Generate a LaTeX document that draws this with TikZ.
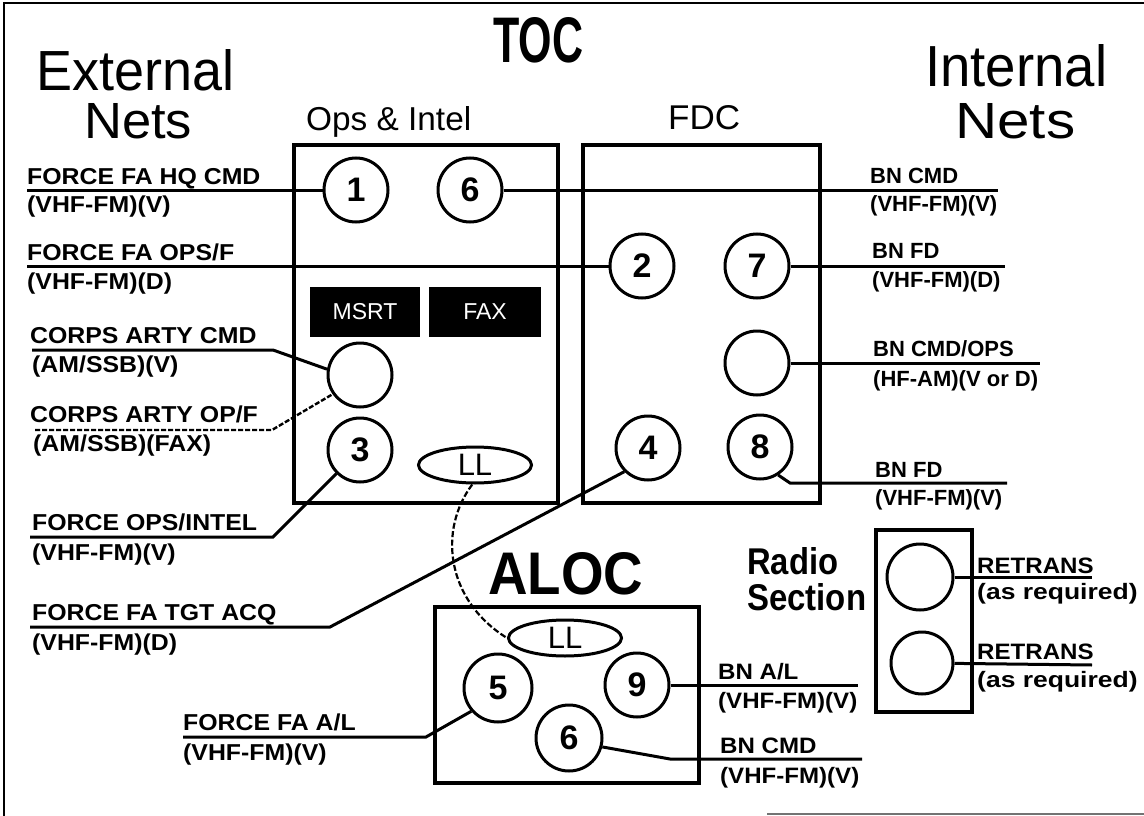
\documentclass[tikz,border=0pt]{standalone}
\usepackage{fontspec}
\setmainfont{Liberation Sans}
\newfontfamily\lblfont[FakeStretch=1.08]{Liberation Sans}
\newfontfamily\rlblfont[FakeStretch=1.0]{Liberation Sans}
\usetikzlibrary{shapes.geometric}
\tikzset{
  net/.style={line width=3pt},
  netdash/.style={line width=2.4pt, dash pattern=on 5pt off 2pt},
  llcurve/.style={line width=2.2pt, dash pattern=on 6pt off 2.5pt},
  box/.style={draw, line width=3.5pt, inner sep=0pt},
  rad/.style={circle, draw, line width=3pt, fill=white, minimum size=64pt, inner sep=0pt,
    font=\bfseries\fontsize{34}{34}\selectfont},
  ll/.style={ellipse, draw, line width=3pt, fill=white, minimum width=113pt, minimum height=36pt,
    inner sep=0pt, font=\fontsize{31}{31}\selectfont},
  blk/.style={fill=black, text=white, minimum height=50pt, inner sep=0pt,
    font=\fontsize{23}{23}\selectfont},
  lbl/.style={anchor=base west, inner sep=0pt, font=\lblfont\bfseries\fontsize{23}{23}\selectfont},
  rlbl/.style={anchor=base west, inner sep=0pt, font=\rlblfont\bfseries\fontsize{22}{22}\selectfont},
  albl/.style={anchor=base west, inner sep=0pt, font=\lblfont\bfseries\fontsize{22.3}{22.3}\selectfont},
  head/.style={anchor=base west, inner sep=0pt},
}
\begin{document}
\begin{tikzpicture}[x=1pt,y=-1pt]
\useasboundingbox (0,0) rectangle (1144,816);
\fill[white] (0,0) rectangle (1144,816);
% frame
\draw[line width=2pt] (1144,3) -- (4,3) -- (4,816);
\draw[line width=2pt, black!55] (767,814) -- (1144,814);

% headings
\node[head] (hext) at (36,90) {\resizebox{198pt}{41pt}{External}};
\node[head] (hnl) at (84,138) {\resizebox{108pt}{35pt}{Nets}};
\node[head] (htoc) at (493,63) {\resizebox{90pt}{45pt}{\bfseries TOC}};
\node[head] (hint) at (925,86) {\resizebox{182pt}{42pt}{Internal}};
\node[head] (hnr) at (955,138) {\resizebox{120pt}{35pt}{Nets}};
\node[head] (hops) at (306,130) {\resizebox{165pt}{24pt}{Ops \& Intel}};
\node[head] (hfdc) at (668,130) {\resizebox{72pt}{24pt}{FDC}};
\node[head] (haloc) at (488,594) {\resizebox{155pt}{42pt}{\bfseries ALOC}};
\node[head] (hradio) at (747,574) {\resizebox{91pt}{27pt}{\bfseries Radio}};
\node[head] (hsect) at (747,610) {\resizebox{119pt}{27pt}{\bfseries Section}};

% boxes
\node[box, minimum width=264pt, minimum height=358pt] (ops) at (426,324) {};
\node[box, minimum width=237pt, minimum height=358pt] (fdc) at (701.5,324) {};
\node[box, minimum width=264pt, minimum height=176pt] (aloc) at (567,695) {};
\node[box, minimum width=96pt, minimum height=182pt] (radio) at (924,621) {};

\node[blk, minimum width=110pt] (msrt) at (365,312) {MSRT};
\node[blk, minimum width=112pt] (fax) at (485,312) {FAX};

% free ends
\coordinate (e1) at (27,190);
\coordinate (e2) at (27,266);
\coordinate (e3a) at (32,350); \coordinate (e3b) at (273,350);
\coordinate (e4a) at (35,430); \coordinate (e4b) at (272,430);
\coordinate (e5a) at (30,537); \coordinate (e5b) at (273,537);
\coordinate (e6a) at (30,627); \coordinate (e6b) at (330,627);
\coordinate (e7a) at (183,737); \coordinate (e7b) at (426,737);
\coordinate (r1) at (998,190);
\coordinate (r2) at (1005,266);
\coordinate (r3) at (1040,363);
\coordinate (r4a) at (790,483); \coordinate (r4b) at (1007,483);
\coordinate (r5) at (858,685);
\coordinate (r6a) at (670,759); \coordinate (r6b) at (862,759);
\coordinate (rt1e) at (1092,577);
\coordinate (rt2e) at (1092,665);

% circles
\node[rad] (c1) at (356,190) {1};
\node[rad] (c6) at (470,190) {6};
\node[rad] (c2) at (642,266) {2};
\node[rad] (c7) at (757,266) {7};
\node[rad] (cbo) at (757,363) {};
\node[rad] (ca) at (360,375) {};
\node[rad] (c3) at (360,450) {3};
\node[rad] (c4) at (648,448) {4};
\node[rad] (c8) at (760,447) {8};
\node[rad, minimum size=68pt] (c5) at (498,688) {5};
\node[rad] (c9) at (637,685) {9};
\node[rad, minimum size=66pt] (c6b) at (569,738) {6};
\node[rad, minimum size=66pt] (rt1) at (920,577) {};
\node[rad, minimum size=62pt] (rt2) at (922,663) {};
\node[ll] (ll1) at (475,465) {LL};
\node[ll] (ll2) at (565,638) {LL};

% connectors
\draw[net] (e1) -- (c1);
\draw[net] (e2) -- (c2);
\draw[net] (e3a) -- (e3b) -- (ca.170);
\draw[netdash] (e4a) -- (e4b) -- (ca.215);
\draw[net] (e5a) -- (e5b) -- (c3.225);
\draw[net] (e6a) -- (e6b) -- (c4.225);
\draw[net] (e7a) -- (e7b) -- (c5.221);
\draw[net] (c6) -- (r1);
\draw[net] (c7) -- (r2);
\draw[net] (cbo) -- (r3);
\draw[net] (c8.303) -- (r4a) -- (r4b);
\draw[net] (c9) -- (r5);
\draw[net] (c6b.345) -- (r6a) -- (r6b);
\draw[net] (rt1) -- (rt1e);
\draw[net] (rt2) -- (rt2e);
\draw[llcurve] (ll1.262) .. controls (438,530) and (446,600) .. (ll2.west);

% labels
\node[lbl] (t1a) at (27,184) {FORCE FA HQ CMD};
\node[lbl] (t1b) at (27,212) {(VHF-FM)(V)};
\node[lbl] (t2a) at (27,260) {FORCE FA OPS/F};
\node[lbl] (t2b) at (27,289) {(VHF-FM)(D)};
\node[lbl] (t3a) at (30,343) {CORPS ARTY CMD};
\node[lbl] (t3b) at (32,372) {(AM/SSB)(V)};
\node[lbl] (t4a) at (30,422) {CORPS ARTY OP/F};
\node[lbl] (t4b) at (33,451) {(AM/SSB)(FAX)};
\node[lbl] (t5a) at (32,530) {FORCE OPS/INTEL};
\node[lbl] (t5b) at (32,560) {(VHF-FM)(V)};
\node[lbl] (t6a) at (32,620) {FORCE FA TGT ACQ};
\node[lbl] (t6b) at (32,650) {(VHF-FM)(D)};
\node[lbl] (t7a) at (183,730) {FORCE FA A/L};
\node[lbl] (t7b) at (183,760) {(VHF-FM)(V)};
\node[rlbl] (s1a) at (870,183) {BN CMD};
\node[rlbl] (s1b) at (870,211) {(VHF-FM)(V)};
\node[rlbl] (s2a) at (872,258) {BN FD};
\node[rlbl] (s2b) at (872,287) {(VHF-FM)(D)};
\node[rlbl] (s3a) at (873,356) {BN CMD/OPS};
\node[rlbl] (s3b) at (873,386) {(HF-AM)(V or D)};
\node[rlbl] (s4a) at (875,477) {BN FD};
\node[rlbl] (s4b) at (875,505) {(VHF-FM)(V)};
\node[albl] (s5a) at (718,679) {BN A/L};
\node[albl] (s5b) at (718,708) {(VHF-FM)(V)};
\node[albl] (s6a) at (720,753) {BN CMD};
\node[albl] (s6b) at (720,783) {(VHF-FM)(V)};
\node[albl] (u1a) at (977,573) {RETRANS};
\node[albl] (u1b) at (977,599) {\scalebox{1.1}[1]{(as required)}};
\node[albl] (u2a) at (977,659) {RETRANS};
\node[albl] (u2b) at (977,687) {\scalebox{1.1}[1]{(as required)}};
\end{tikzpicture}
\end{document}
